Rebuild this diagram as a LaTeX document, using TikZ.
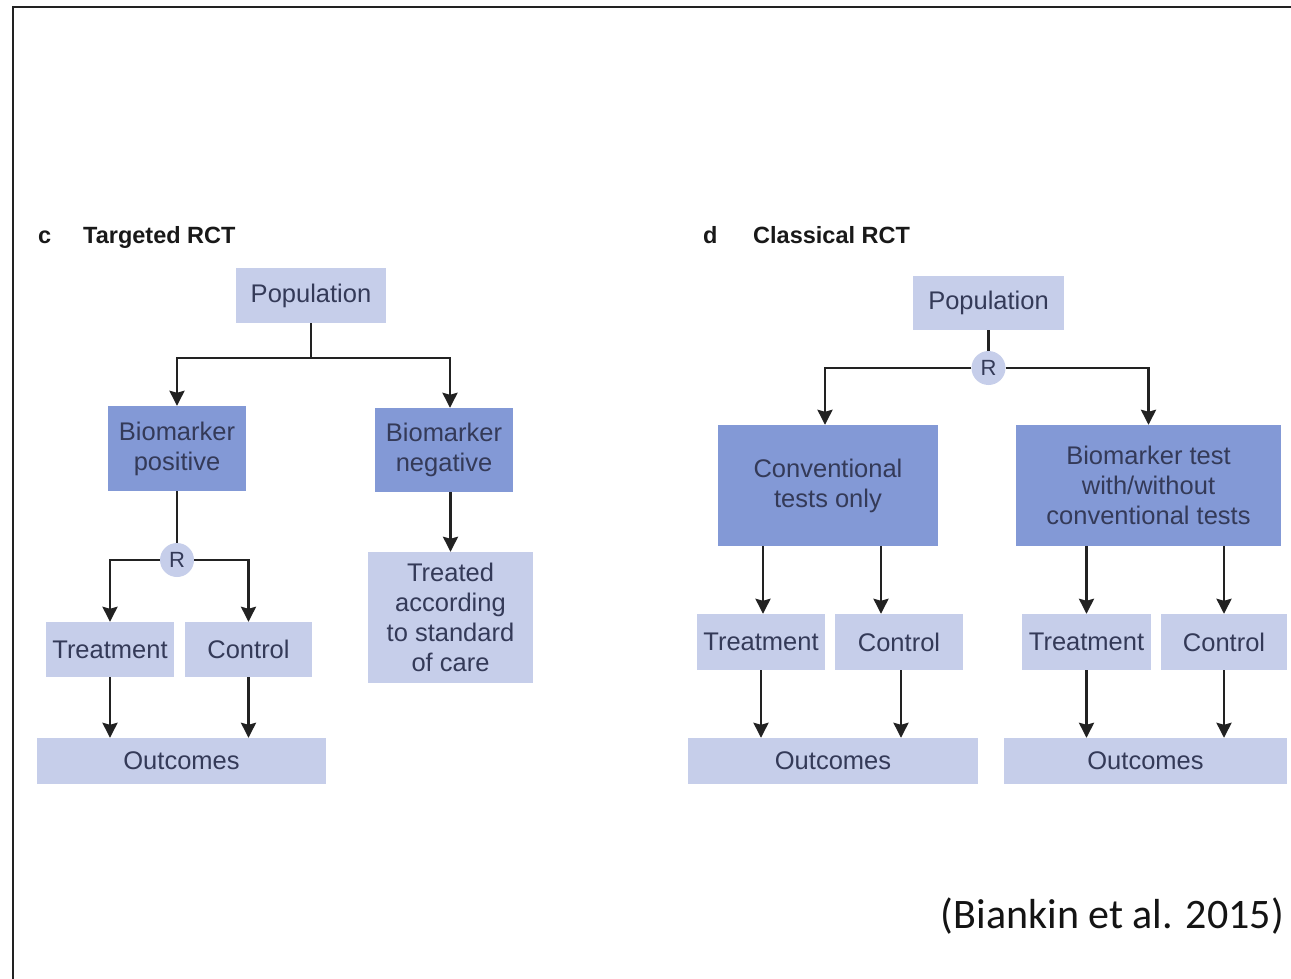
\documentclass[tikz,border=0pt]{standalone}
\usepackage{fontspec}
\setmainfont{Liberation Sans}
\newfontfamily\citefont{Carlito}
\usetikzlibrary{arrows.meta}
\definecolor{lightbox}{HTML}{C6CEEA}
\definecolor{darkbox}{HTML}{8399D6}
\definecolor{boxtext}{HTML}{343A58}
\definecolor{linec}{HTML}{222222}
\begin{document}
\begin{tikzpicture}[x=1pt,y=-1pt,
 box/.style={draw=none, inner sep=0pt, text=boxtext, font=\fontsize{25.5}{30}\selectfont, align=center},
 lbox/.style={box, fill=lightbox},
 dbox/.style={box, fill=darkbox},
 rnode/.style={circle, fill=lightbox, minimum size=34pt, inner sep=0pt, text=boxtext, font=\fontsize{22}{22}\selectfont},
 conn/.style={draw=linec, line width=2.6pt},
 arr/.style={conn, -{Stealth[length=15pt,width=15pt,inset=2pt]}},
 ttl/.style={font=\fontsize{23.5}{28}\selectfont\bfseries, text=black!90, anchor=base west, inner sep=0pt}
]
\useasboundingbox (0,0) rectangle (1291,979);
\fill[white] (0,0) rectangle (1291,979);
\draw[line width=2pt, linec] (13,979) -- (13,7) -- (1291,7);

% ---- panel c ----
\node[ttl] (tc1) at (38,243) {c};
\node[ttl] (tc2) at (83,243) {Targeted RCT};
\node[lbox, minimum width=150pt, minimum height=55pt] (pop1) at (311,295.5) {Population};
\node[dbox, minimum width=138pt, minimum height=85pt] (bp) at (177,448.5) {Biomarker\\positive};
\node[dbox, minimum width=138pt, minimum height=84pt] (bn) at (444,450) {Biomarker\\negative};
\node[rnode] (R1) at (177,560) {R};
\node[lbox, minimum width=128pt, minimum height=55pt] (tr1) at (110,649.5) {Treatment};
\node[lbox, minimum width=127pt, minimum height=55pt] (co1) at (248.5,649.5) {Control};
\node[lbox, minimum width=289pt, minimum height=46pt] (out1) at (181.5,761) {Outcomes};
\node[lbox, minimum width=165pt, minimum height=131pt] (std) at (450.5,617.5) {Treated\\according\\to standard\\of care};

\coordinate (j1) at (311,358);
\draw[conn] (pop1.south) -- (j1);
\draw[arr] (j1) -| (bp.north);
\draw[arr] (j1) -| ([xshift=6pt]bn.north);
\draw[arr] (std.north |- bn.south) -- (std.north);
\draw[conn] (bp.south) -- (R1.north);
\draw[arr] (R1.west) -| (tr1.north);
\draw[arr] (R1.east) -| (co1.north);
\draw[arr] (tr1.south) -- (tr1.south |- out1.north);
\draw[arr] (co1.south) -- (co1.south |- out1.north);

% ---- panel d ----
\node[ttl] (td1) at (703,243) {d};
\node[ttl] (td2) at (753,243) {Classical RCT};
\node[lbox, minimum width=151pt, minimum height=54pt] (pop2) at (988.5,303) {Population};
\node[rnode] (R2) at (988.5,368) {R};
\node[dbox, minimum width=220pt, minimum height=121pt] (conv) at (828,485.5) {Conventional\\tests only};
\node[dbox, minimum width=265pt, minimum height=121pt] (bmt) at (1148.5,485.5) {Biomarker test\\with/without\\conventional tests};
\node[lbox, minimum width=128pt, minimum height=56pt] (tr2) at (761,642) {Treatment};
\node[lbox, minimum width=128pt, minimum height=56pt] (co2) at (899,642) {Control};
\node[lbox, minimum width=290pt, minimum height=46pt] (out2) at (833,761) {Outcomes};
\node[lbox, minimum width=129pt, minimum height=56pt] (tr3) at (1086.5,642) {Treatment};
\node[lbox, minimum width=126pt, minimum height=56pt] (co3) at (1224,642) {Control};
\node[lbox, minimum width=283pt, minimum height=46pt] (out3) at (1145.5,761) {Outcomes};

\draw[conn] (pop2.south) -- (R2.north);
\draw[arr] (R2.west) -| ([xshift=-3pt]conv.north);
\draw[arr] (R2.east) -| (bmt.north);
\draw[arr] ([xshift=2pt]tr2.north |- conv.south) -- ([xshift=2pt]tr2.north);
\draw[arr] ([xshift=-18pt]co2.north |- conv.south) -- ([xshift=-18pt]co2.north);
\draw[arr] (tr2.south) -- (tr2.south |- out2.north);
\draw[arr] ([xshift=2pt]co2.south) -- ([xshift=2pt]co2.south |- out2.north);
\draw[arr] (tr3.north |- bmt.south) -- (tr3.north);
\draw[arr] (co3.north |- bmt.south) -- (co3.north);
\draw[arr] (tr3.south) -- (tr3.south |- out3.north);
\draw[arr] (co3.south) -- (co3.south |- out3.north);

\node[anchor=east, inner sep=0pt, text=black!92, font=\citefont\fontsize{42}{50}\selectfont] (cite) at (1284,916) {(Biankin et al. 2015)};
\end{tikzpicture}
\end{document}
